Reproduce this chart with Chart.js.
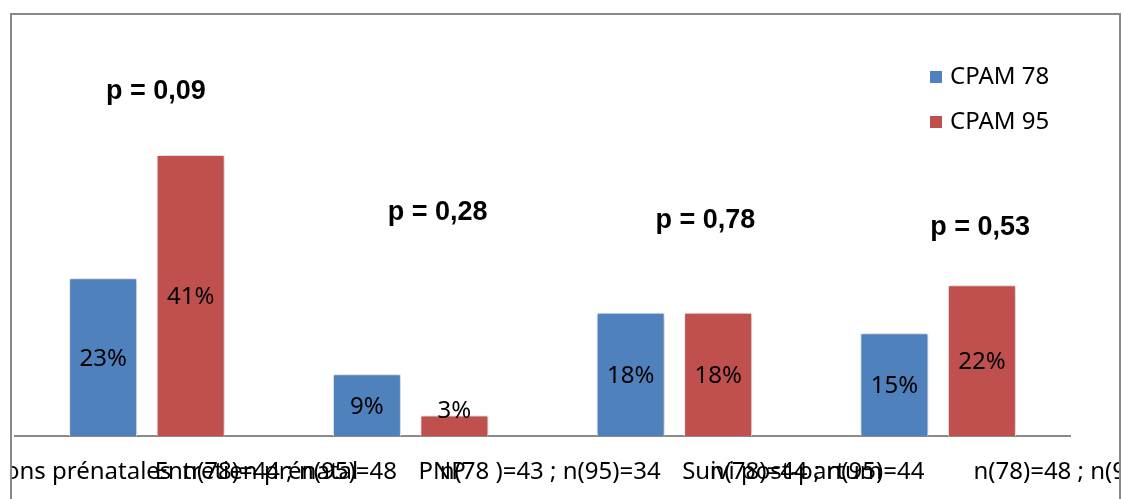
<!DOCTYPE html>
<html lang="fr">
<head>
    <meta charset="UTF-8">
    <title>CPAM 78 / CPAM 95</title>
    <script src="https://cdn.jsdelivr.net/npm/chart.js@4.4.0/dist/chart.umd.min.js"></script>
    <style>
        html, body {
            margin: 0;
            padding: 0;
            width: 1122px;
            height: 499px;
            overflow: hidden;
            background: #fff;
        }
        .frame {
            position: absolute;
            left: 10px;
            top: 13px;
            width: 1107px;
            height: 600px;
            border: 2px solid #898989;
            overflow: hidden;
        }
        canvas {
            display: block;
        }
    </style>
</head>
<body>
    <div class="frame">
        <canvas id="chart" width="1107" height="484"></canvas>
    </div>

    <script>
        // Data
        const categories = ['Consultations prénatales', 'Entretien prénatal', 'PNP', 'Suivi post-partum'];
        const effectifs = ['n(78)=44 ; n(95)=48', 'n(78 )=43 ; n(95)=34', 'n(78)=44 ; n(95)=44', 'n(78)=48 ; n(95)=45'];
        const cpam78 = [23, 9, 18, 15];
        const cpam95 = [41, 3, 18, 22];
        const pValues = ['p = 0,09', 'p = 0,28', 'p = 0,78', 'p = 0,53'];

        // where the p text boxes sit: x offset from category centre (px), height in axis units
        const pBoxes = [
            { dx: 9, level: 50.3 },
            { dx: 27, level: 32.6 },
            { dx: 31, level: 31.4 },
            { dx: 42, level: 30.4 }
        ];

        const textFont = '24px "Noto Sans"';

        const extras = {
            id: 'extras',
            beforeDatasetsDraw(chart) {
                const ctx = chart.ctx;
                ctx.save();
                ctx.shadowColor = 'rgba(0,0,0,0.3)';
                ctx.shadowBlur = 6;
                ctx.shadowOffsetX = 1;
            },
            afterDatasetsDraw(chart) {
                const ctx = chart.ctx;
                ctx.restore();
                const xs = chart.scales.x;
                const ys = chart.scales.y;

                // values inside the bars
                ctx.save();
                ctx.font = textFont;
                ctx.fillStyle = '#000';
                ctx.textAlign = 'center';
                ctx.textBaseline = 'middle';
                chart.data.datasets.forEach((ds, d) => {
                    chart.getDatasetMeta(d).data.forEach((bar, i) => {
                        let cy = (bar.y + bar.base) / 2 + 2;
                        cy = Math.min(cy, bar.base - 25);
                        ctx.fillText(ds.data[i] + '%', bar.x, cy);
                    });
                });

                // p values
                ctx.font = 'bold 27px "Liberation Sans", Arial, sans-serif';
                pValues.forEach((p, i) => {
                    ctx.fillText(p, xs.getPixelForValue(i) + pBoxes[i].dx, ys.getPixelForValue(pBoxes[i].level));
                });

                // category labels (name left, counts right, as in the original export)
                ctx.font = textFont;
                const ly = chart.chartArea.bottom + 36;
                categories.forEach((c, i) => {
                    const cx = xs.getPixelForValue(i);
                    ctx.textAlign = 'left';
                    ctx.fillText(c, cx - 256, ly);
                    ctx.textAlign = 'right';
                    ctx.fillText(effectifs[i], cx + 250, ly);
                });

                // legend
                ctx.textAlign = 'left';
                chart.data.datasets.forEach((ds, d) => {
                    const y = 62 + d * 45;
                    ctx.fillStyle = ds.backgroundColor;
                    ctx.fillRect(918, y - 6, 12, 12);
                    ctx.fillStyle = '#000';
                    ctx.fillText(ds.label, 938, y);
                });
                ctx.restore();
            }
        };

        new Chart(document.getElementById('chart'), {
            type: 'bar',
            data: {
                labels: categories,
                datasets: [{
                    label: 'CPAM 78',
                    data: cpam78,
                    backgroundColor: '#4F81BD',
                    borderColor: '#ffffff',
                    borderWidth: 1,
                    categoryPercentage: 0.6635,
                    barPercentage: 0.777
                }, {
                    label: 'CPAM 95',
                    data: cpam95,
                    backgroundColor: '#C0504D',
                    borderColor: '#ffffff',
                    borderWidth: 1,
                    categoryPercentage: 0.6635,
                    barPercentage: 0.777
                }]
            },
            options: {
                responsive: false,
                animation: false,
                layout: {
                    padding: { left: 3, right: 49, top: 116, bottom: 0 }
                },
                plugins: {
                    legend: { display: false },
                    tooltip: { enabled: false }
                },
                scales: {
                    x: {
                        grid: { display: false },
                        ticks: { display: false },
                        border: { color: '#898989', width: 2 },
                        afterFit(scale) { scale.height = 63; }
                    },
                    y: {
                        display: false,
                        min: 0,
                        max: 44.5
                    }
                }
            },
            plugins: [extras]
        });
    </script>
</body>
</html>
